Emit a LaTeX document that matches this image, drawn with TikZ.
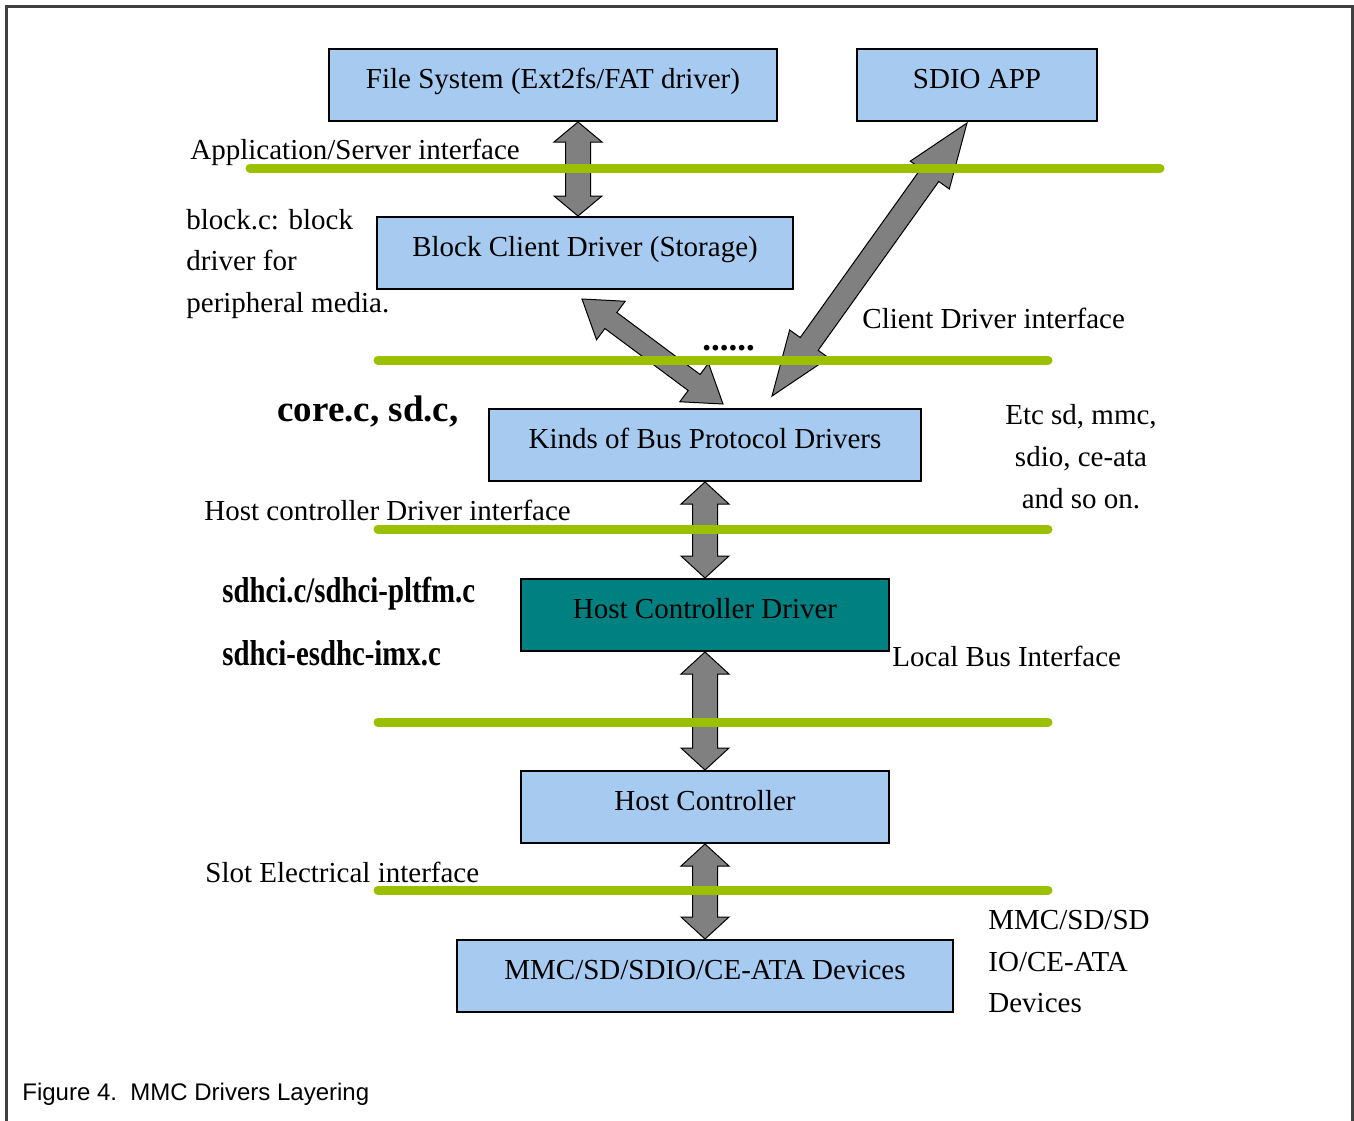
\documentclass[tikz,border=0pt]{standalone}
\usepackage{fontspec}
\setmainfont{Liberation Serif}
\newfontfamily\capfont{Liberation Sans}
\newfontfamily\narrowfont[FakeStretch=0.8]{Liberation Serif}
\usetikzlibrary{positioning,calc}
\definecolor{boxblue}{RGB}{166,202,240}
\definecolor{hcdteal}{RGB}{0,128,128}
\definecolor{ifgreen}{RGB}{155,192,0}
\definecolor{arrowgray}{RGB}{128,128,128}
\definecolor{framegray}{RGB}{64,64,64}
\newcommand{\dblarrow}[4]{%
  \filldraw[fatarrow] (#1) -- ($(#1)!#3!(#2)!12pt!90:(#2)$) -- ($(#1)!#3!(#2)!#4!90:(#2)$)
    -- ($(#2)!#3!(#1)!#4!-90:(#1)$) -- ($(#2)!#3!(#1)!12pt!-90:(#1)$) -- (#2)
    -- ($(#2)!#3!(#1)!12pt!90:(#1)$) -- ($(#2)!#3!(#1)!#4!90:(#1)$)
    -- ($(#1)!#3!(#2)!#4!-90:(#2)$) -- ($(#1)!#3!(#2)!12pt!-90:(#2)$) -- cycle;}

\begin{document}
\begin{tikzpicture}[x=0.5pt,y=-0.5pt,
	box/.style={draw=black,line width=1pt,fill=boxblue,minimum height=36pt,inner sep=0pt,text height=10pt,text depth=7pt},
	fatarrow/.style={fill=arrowgray,draw=black,line width=0.5pt},
	layer/.style={ifgreen,line width=4.5pt,line cap=round},
	lbl/.style={inner sep=0pt},
	font=\fontsize{14.5}{20.75}\selectfont]
	\useasboundingbox (0,0) rectangle (1354,1120);
	\draw[framegray,line width=1.5pt] (6,1121) -- (6,6) -- (1352,6) -- (1352,1121);

	\node[box,minimum width=224pt] (fs) at (553,85) {File System (Ext2fs/FAT driver)};
	\node[box,minimum width=120pt] (sdio) at (977,85) {SDIO APP};
	\node[box,minimum width=208pt] (bcd) at (585,253) {Block Client Driver (Storage)};
	\node[box,minimum width=216pt] (kinds) at (705,445) {Kinds of Bus Protocol Drivers};
	\node[box,minimum width=184pt,fill=hcdteal] (hcd) [below=48pt of kinds] {Host Controller Driver};
	\node[box,minimum width=184pt] (hc) [below=59pt of hcd] {Host Controller};
	\node[box,minimum width=248pt] (dev) [below=47.5pt of hc] {MMC/SD/SDIO/CE-ATA Devices};

	\coordinate (fsout) at ($(fs.south)+(25,0)$);
	\coordinate (bcdin) at ($(bcd.north)+(-7,0)$);
	\coordinate (bcdout) at ($(bcd.south)+(-3,9)$);
	\coordinate (kindsin) at ($(kinds.north)+(18,-4)$);
	\coordinate (sdioout) at ($(sdio.south)+(-10,1)$);
	\coordinate (kindsapp) at ($(kinds.north)+(67,-12)$);
	\dblarrow{fsout}{bcdin}{10pt}{6.25pt}
	\dblarrow{bcdout}{kindsin}{18pt}{5pt}
	\dblarrow{sdioout}{kindsapp}{32pt}{5.5pt}
	\dblarrow{kinds.south}{hcd.north}{11pt}{6.25pt}
	\dblarrow{hcd.south}{hc.north}{11pt}{6.25pt}
	\dblarrow{hc.south}{dev.north}{11pt}{6.25pt}

	\draw[layer] (250,168) -- (1160,168);
	\foreach \y in {360,529,722,890}
		\draw[layer] (378,\y) -- (1048,\y);

	\node[lbl,anchor=base west] (asif) at (190,159) {Application/Server interface};
	\node[lbl,anchor=west,align=left] (blockc) at (186,264) {block.c: block\\driver for\\peripheral media.};
	\node[lbl,anchor=base west] (cdif) at (862,328) {Client Driver interface};
	\node[lbl,anchor=base west,font=\fontsize{17.5}{20}\selectfont\bfseries] (dots) at (702,350) {......};
	\node[lbl,anchor=base west,font=\fontsize{18.5}{22}\selectfont\bfseries] (corec) at (277,421) {core.c, sd.c,};
	\node[lbl,align=center,font=\fontsize{14.5}{21}\selectfont] (etc) at (1081,457) {Etc sd, mmc,\\sdio, ce-ata\\and so on.};
	\node[lbl,anchor=base west] (hcdif) at (204,520) {Host controller Driver interface};
	\node[lbl,anchor=base west,font=\narrowfont\bfseries\fontsize{18}{20}\selectfont] (sdhci) at (222,602) {sdhci.c/sdhci-pltfm.c};
	\node[lbl,anchor=base west,font=\narrowfont\bfseries\fontsize{18}{20}\selectfont] (esdhc) at (222,665) {sdhci-esdhc-imx.c};
	\node[lbl,anchor=base west] (lbif) at (892,666) {Local Bus Interface};
	\node[lbl,anchor=base west] (slotif) at (205,882) {Slot Electrical interface};
	\node[lbl,anchor=west,align=left] (devtxt) at (988,962) {MMC/SD/SD\\IO/CE-ATA\\Devices};
	\node[lbl,anchor=base west,font=\capfont\fontsize{12}{14}\selectfont] (cap) at (22,1100) {Figure 4.\ \ MMC Drivers Layering};
\end{tikzpicture}
\end{document}
